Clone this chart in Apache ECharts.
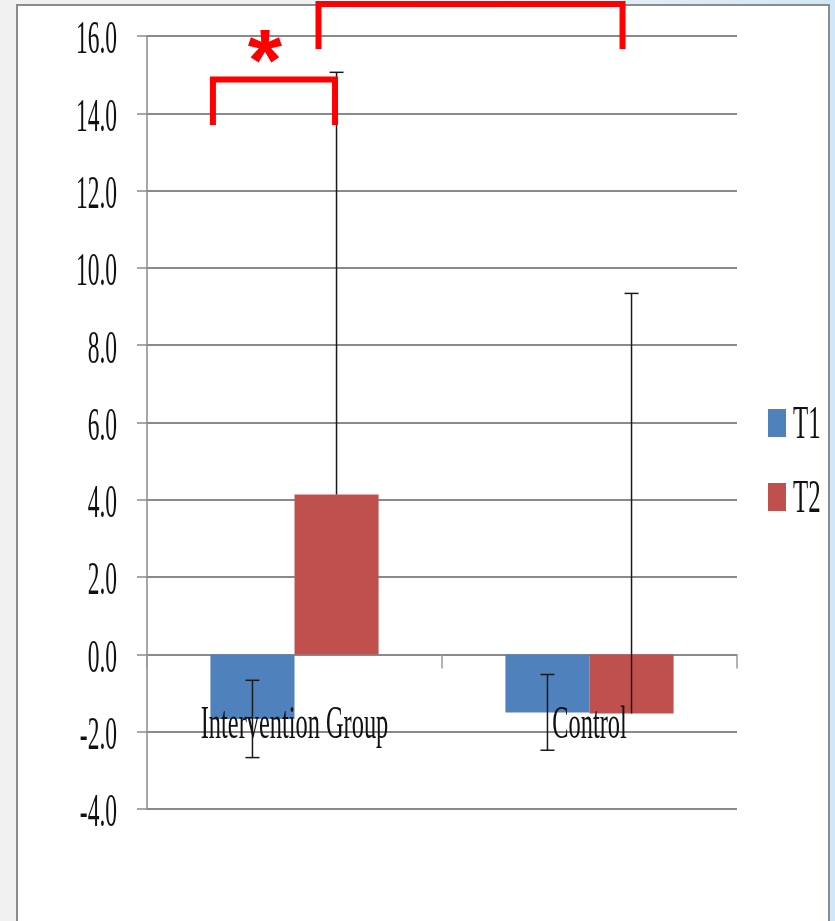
<!DOCTYPE html>
<html>
<head>
<meta charset="utf-8">
<script src="https://cdn.jsdelivr.net/npm/echarts@6/dist/echarts.min.js"></script>
<style>
  html, body { margin: 0; padding: 0; width: 835px; height: 921px; overflow: hidden;
    background: linear-gradient(90deg, #f1f1f1 0%, #eef1f3 55%, #cfe7f7 100%); }
  #panel { position: absolute; left: 16px; top: 4px; width: 810px; height: 930px;
    background: #fff; border: 2px solid #8c8c8c; border-bottom: none; }
  #chart { position: absolute; left: 0; top: 0; width: 835px; height: 921px; }
</style>
</head>
<body>
<div id="panel"></div>
<div id="chart"></div>
<script>
// Mean change per group at two time points, with error bars
const categories = ['Intervention Group', 'Control'];
const seriesNames = ['T1', 'T2'];
const t1Values = [-1.67, -1.50];
const t2Values = [4.14, -1.53];
const t1Errors = [1.00, 0.98];    // drawn in both directions
const t2Errors = [10.92, 10.87];  // drawn upward only
const yTicks = [-4, -2, 0, 2, 4, 6, 8, 10, 12, 14, 16];

const colors = ['#4F81BD', '#C0504D'];
const gridColor = '#8a8a8a';
const serif = '"Liberation Serif", "Times New Roman", serif';
const catGap = 0.43;

const chart = echarts.init(document.getElementById('chart'), null, { renderer: 'canvas' });

function errorSeries(name, values, errors, side, both) {
  return {
    type: 'custom',
    name: name,
    z: 6,
    silent: true,
    data: values.map((v, i) => [i, v, errors[i]]),
    renderItem(params, api) {
      const i = api.value(0), v = api.value(1), e = api.value(2);
      const band = api.size([1, 0])[0];
      const barW = band * (1 - catGap) / 2;
      const cx = api.coord([i, v])[0] + side * barW / 2;
      const yTop = api.coord([i, v + e])[1];
      const yBot = api.coord([i, both ? v - e : v])[1];
      const cap = 7;
      const style = { stroke: '#1a1a1a', lineWidth: 1.5 };
      const children = [
        { type: 'line', shape: { x1: cx, y1: yTop, x2: cx, y2: yBot }, style },
        { type: 'line', shape: { x1: cx - cap, y1: yTop, x2: cx + cap, y2: yTop }, style }
      ];
      if (both) {
        children.push({ type: 'line', shape: { x1: cx - cap, y1: yBot, x2: cx + cap, y2: yBot }, style });
      }
      return { type: 'group', children };
    }
  };
}

const option = {
  animation: false,
  backgroundColor: 'transparent',
  color: colors,
  grid: { left: 147, right: 98, top: 36, bottom: 112, containLabel: false },
  legend: {
    data: seriesNames,
    orient: 'vertical',
    left: 768,
    top: 409,
    padding: 0,
    icon: 'rect',
    itemWidth: 18,
    itemHeight: 28,
    itemGap: 46,
    selectedMode: false,
    formatter: () => '',
    textStyle: { fontSize: 1 }
  },
  xAxis: {
    type: 'category',
    data: categories,
    axisLine: { show: true, onZero: true, lineStyle: { color: gridColor, width: 1.5 } },
    axisTick: { show: true, length: 14, lineStyle: { color: '#9a9a9a', width: 1.5 } },
    axisLabel: { show: false },
    splitLine: { show: false }
  },
  yAxis: {
    type: 'value',
    min: -4,
    max: 16,
    interval: 2,
    axisLine: { show: true, lineStyle: { color: gridColor, width: 1.5 } },
    axisTick: { show: true, length: 10, inside: false, lineStyle: { color: gridColor, width: 1.5 } },
    axisLabel: { show: false },
    splitLine: { show: true, lineStyle: { color: gridColor, width: 2 } }
  },
  series: [
    { type: 'bar', name: 'T1', data: t1Values, barGap: '0%', barCategoryGap: (catGap * 100) + '%',
      itemStyle: { color: colors[0] }, z: 3 },
    { type: 'bar', name: 'T2', data: t2Values, barGap: '0%', barCategoryGap: (catGap * 100) + '%',
      itemStyle: { color: colors[1] }, z: 3 },
    errorSeries('T1 error', t1Values, t1Errors, -1, true),
    errorSeries('T2 error', t2Values, t2Errors, 1, false)
  ]
};

chart.setOption(option);

// Text is set in a narrow serif: draw it as scaled text elements placed through the axes
const graphics = [];

yTicks.forEach(v => {
  const py = chart.convertToPixel({ yAxisIndex: 0 }, v);
  graphics.push({
    type: 'text', x: 117, y: py + 5, scaleX: 0.5, z: 50, silent: true,
    style: { text: v.toFixed(1), fontFamily: serif, fontSize: 47, fill: '#111',
      align: 'right', verticalAlign: 'middle' }
  });
});

const zeroY = chart.convertToPixel({ yAxisIndex: 0 }, 0);
categories.forEach((c, i) => {
  const px = chart.convertToPixel({ xAxisIndex: 0 }, i);
  graphics.push({
    type: 'text', x: px, y: zeroY + 72, scaleX: 0.53, z: 50, silent: true,
    style: { text: c, fontFamily: serif, fontSize: 46, fill: '#111',
      align: 'center', verticalAlign: 'middle' }
  });
});

// Legend captions beside the legend swatches
seriesNames.forEach((n, i) => {
  graphics.push({
    type: 'text', x: 793, y: 426 + i * 74, scaleX: 0.53, z: 50, silent: true,
    style: { text: n, fontFamily: serif, fontSize: 47, fill: '#111',
      align: 'left', verticalAlign: 'middle' }
  });
});

// Significance brackets
const c0 = chart.convertToPixel({ xAxisIndex: 0 }, 0);
const c1 = chart.convertToPixel({ xAxisIndex: 0 }, 1);
const band = c1 - c0;
const barW = band * (1 - catGap) / 2;
const red = '#ff0000';

const b1Left = c0 - barW + 2.5, b1Right = c0 + barW / 2 - 1.5;
graphics.push({
  type: 'polyline', z: 60, silent: true,
  shape: { points: [[b1Left, 125], [b1Left, 79.5], [b1Right, 79.5], [b1Right, 125]] },
  style: { stroke: red, lineWidth: 6, fill: null, lineJoin: 'miter' }
});
graphics.push({
  type: 'text', x: b1Left + 52, y: 66, z: 60, silent: true,
  style: { text: '*', fontFamily: '"Liberation Sans", Arial, sans-serif', fontWeight: 'bold',
    fontSize: 88, fill: red, align: 'center', verticalAlign: 'middle' }
});

const b2Left = c0 + 24, b2Right = c1 + barW / 2 - 9;
graphics.push({
  type: 'polyline', z: 60, silent: true,
  shape: { points: [[b2Left, 49], [b2Left, 4], [b2Right, 4], [b2Right, 49]] },
  style: { stroke: red, lineWidth: 6, fill: null, lineJoin: 'miter' }
});

chart.setOption({ graphic: graphics });
</script>
</body>
</html>
